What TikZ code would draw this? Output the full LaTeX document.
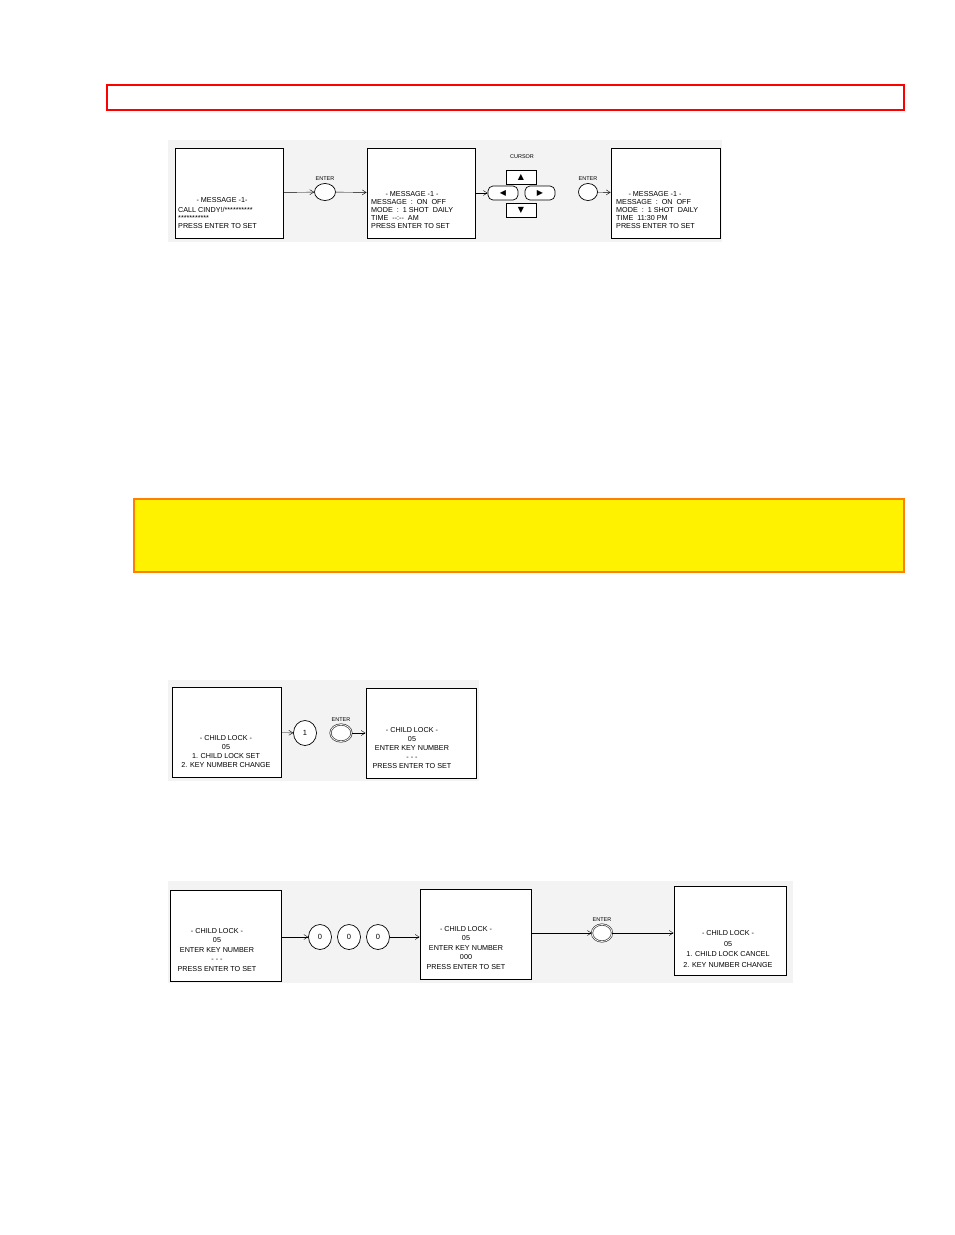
\documentclass[tikz,border=0pt]{standalone}
\usepackage{fontspec}
\setmainfont{Liberation Sans}
\newfontfamily\symfont{DejaVu Sans}
\usetikzlibrary{positioning,arrows.meta,shapes.geometric}
\definecolor{warnedge}{HTML}{FF8000}
\definecolor{panelgray}{HTML}{F3F3F3}

\begin{document}
\begin{tikzpicture}[x=1pt, y=-1pt,
  screen/.style={draw, fill=white, line width=0.9pt, minimum width=#1, minimum height=90, inner sep=0pt},
  screen/.default=109,
  txt/.style={font=\fontsize{7.2}{#1}\selectfont, inner sep=0pt, align=center},
  txt/.default=8,
  keybtn/.style={draw, fill=white, ellipse, line width=0.7pt, minimum width=21, minimum height=17, inner sep=0pt},
  digit/.style={draw, fill=white, ellipse, line width=0.7pt, minimum width=23, minimum height=25, inner sep=0pt,
                font=\fontsize{7.5}{8}\selectfont},
  halo/.style={double=white, double distance=0.7pt, draw=black!75},
  cur/.style={draw, fill=white, line width=0.7pt, minimum width=30, minimum height=14, inner sep=0pt,
              font=\symfont\fontsize{8}{8}\selectfont},
  lbl/.style={font=\fontsize{5.5}{6}\selectfont, inner sep=0pt},
  >={Straight Barb[length=4pt, width=5pt]}]
  \useasboundingbox (0,0) rectangle (954,1235);
  % banners
  \draw[red, line width=1.3pt] (107,85) rectangle (904,110);
  \draw[warnedge, fill=yellow, line width=1.3pt] (134,499) rectangle (904,572);
  % light panels behind the screens
  \fill[panelgray] (168,140) rectangle (722,242);
  \fill[panelgray] (168,680) rectangle (479,781);
  \fill[panelgray] (168,881) rectangle (793,983);

  % row 1: message setting
  \node[screen=108] (msgA) at (229,193) {};
  \node[txt] at (222,200) {- MESSAGE -1-};
  \node[txt, anchor=west, align=left] at (178,217.5) {CALL CINDY!/**********\\***********\\PRESS ENTER TO SET};
  \node[keybtn, label={[lbl, label distance=2pt]above:ENTER}] (ent1) at (325,192) {};
  \node[screen=108] (msgB) at (421,193) {};
  \node[txt] at (412,194) {- MESSAGE -1 -};
  \node[txt, anchor=west, align=left] at (371,214) {MESSAGE \ : \ ON \ OFF\\MODE \ : \ 1 SHOT \ DAILY\\TIME \ -{}-:-{}- \ AM\\PRESS ENTER TO SET};
  \node[cur] (up)    at (521,177) {▲};
  \node[cur, rounded corners=5pt] (left)  at (503,193) {◀};
  \node[cur, rounded corners=5pt] (right) at (540,193) {▶};
  \node[cur] (down)  at (521,210) {▼};
  \node[lbl] (cursorlbl) at (522,157) {CURSOR};
  \node[keybtn, minimum width=19, label={[lbl, label distance=2pt]above:ENTER}] (ent2) at (588,192) {};
  \node[screen=109] (msgC) at (665.5,193.5) {};
  \node[txt] at (655,194) {- MESSAGE -1 -};
  \node[txt, anchor=west, align=left] at (616,214) {MESSAGE \ : \ ON \ OFF\\MODE \ : \ 1 SHOT \ DAILY\\TIME \ 11:30 PM\\PRESS ENTER TO SET};
  \draw[->] (msgA) -- (ent1);
  \draw[->] (ent1) -- (msgB);
  \draw[->] (msgB) -- (left);
  \draw[->] (ent2) -- (msgC);

  % row 2: child lock set
  \node[screen=109] (lockD) at (226.5,732) {};
  \node[txt=9] at (226,751.5) {- CHILD LOCK -\\05\\1. CHILD LOCK SET\\2. KEY NUMBER CHANGE};
  \node[digit] (one) at (305,733) {1};
  \node[keybtn, halo, label={[lbl, label distance=2pt]above:ENTER}] (ent3) at (341,733) {};
  \node[screen=110] (lockE) at (421,733) {};
  \node[txt=9] at (412,748) {- CHILD LOCK -\\05\\ENTER KEY NUMBER\\- - -\\PRESS ENTER TO SET};
  \draw[->] (lockD) -- (one);
  \draw[->] (ent3) -- (lockE);

  % row 3: key number entry
  \node[screen=111, minimum height=91] (lockF) at (225.5,935.5) {};
  \node[txt=9.5] at (217,950) {- CHILD LOCK -\\05\\ENTER KEY NUMBER\\- - -\\PRESS ENTER TO SET};
  \node[digit] (zeroA) at (320,937) {0};
  \node[digit] (zeroB) at (349,937) {0};
  \node[digit] (zeroC) at (378,937) {0};
  \node[screen=111] (lockG) at (475.5,934) {};
  \node[txt=9.5] at (466,948) {- CHILD LOCK -\\05\\ENTER KEY NUMBER\\000\\PRESS ENTER TO SET};
  \node[keybtn, halo, minimum width=20, label={[lbl, label distance=2pt]above:ENTER}] (ent4) at (602,933) {};
  \node[screen=112, minimum height=89] (lockH) at (730,930.5) {};
  \node[txt=10.5] at (728,949) {- CHILD LOCK -\\05\\1. CHILD LOCK CANCEL\\2. KEY NUMBER CHANGE};
  \draw[->] (lockF.east |- zeroA) -- (zeroA);
  \draw[->] (zeroC) -- (lockG.west |- zeroC);
  \draw[->] (lockG.east |- ent4) -- (ent4);
  \draw[->] (ent4) -- (lockH.west |- ent4);
\end{tikzpicture}
\end{document}
